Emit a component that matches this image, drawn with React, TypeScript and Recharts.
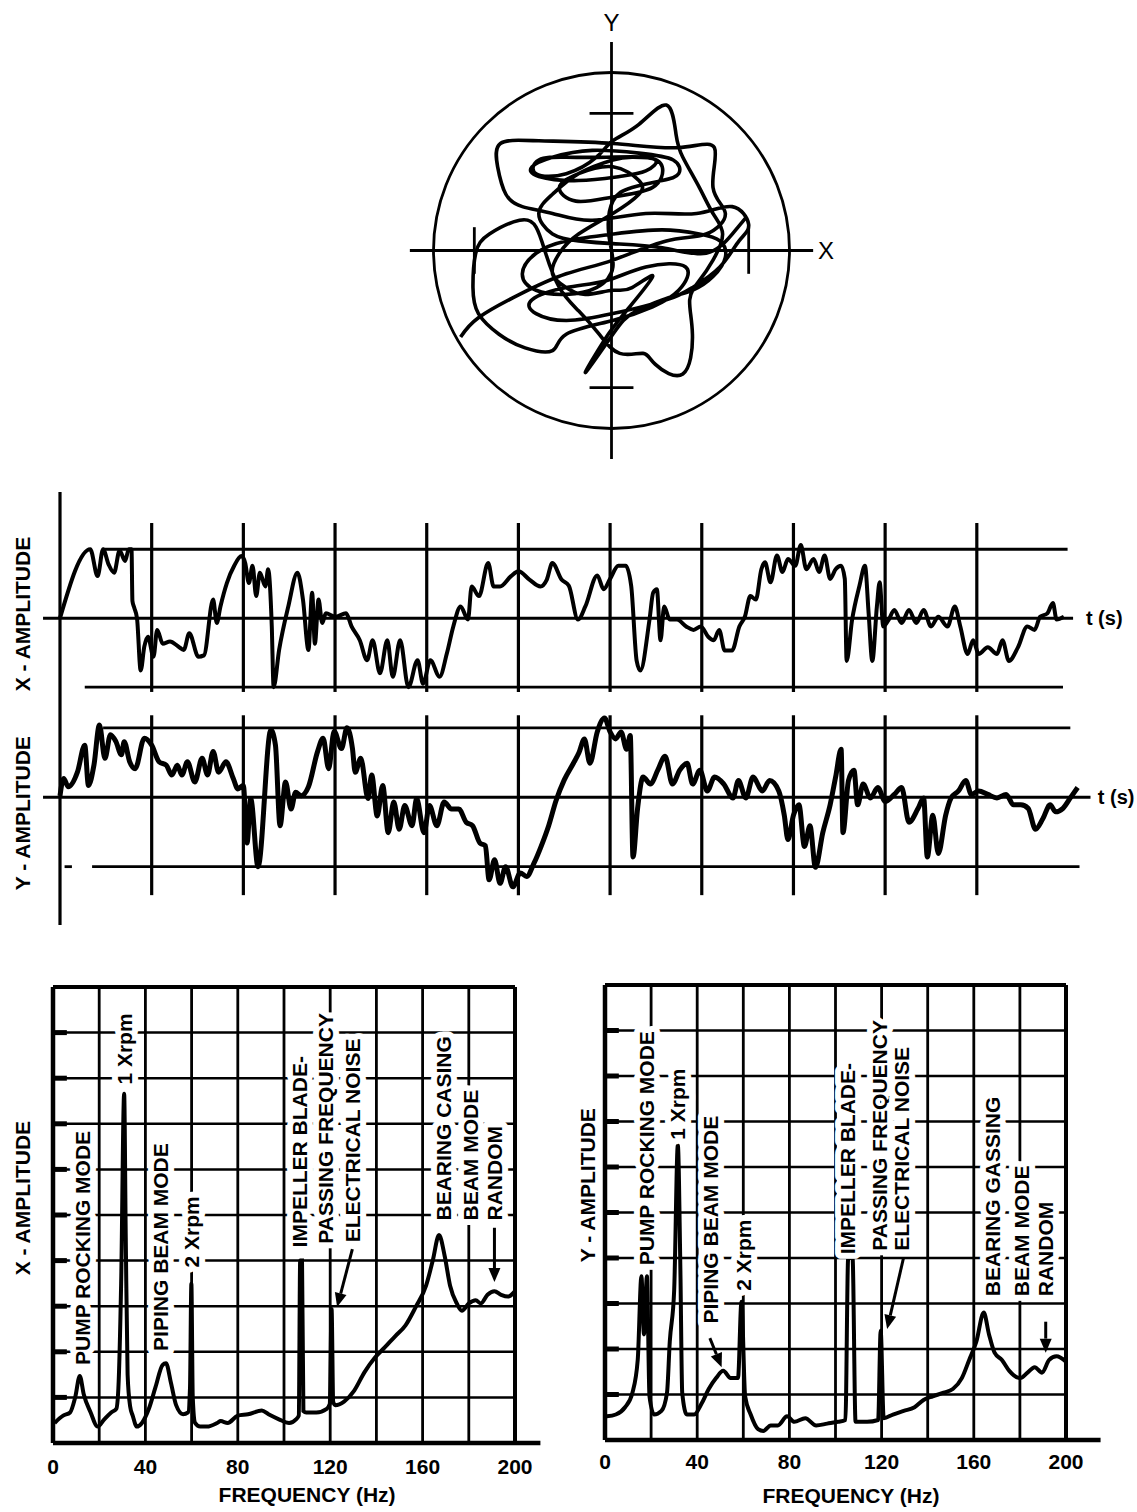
import React from 'react';
import { LineChart, Line, XAxis, YAxis, ReferenceLine, ReferenceDot } from 'recharts';

const FONT = '"Liberation Sans", Arial, Helvetica, sans-serif';
const INK = '#000';

// orbit, in tick units (x, y)
const orbitPath: [number, number][] = [
  [-1.1, -0.63], [-0.97, -0.49], [-0.67, -0.32], [-0.33, -0.17], [0.01, -0.07], [0.4, 0.07], [0.69, 0.12],
  [0.83, 0.27], [0.74, 0.46], [0.75, 0.75], [0.49, 0.75], [0.01, 0.78], [-0.53, 0.8], [-0.81, 0.78],
  [-0.83, 0.61], [-0.77, 0.41], [-0.65, 0.32], [-0.43, 0.27], [-0.14, 0.22], [0.25, 0.27], [0.62, 0.27],
  [0.88, 0.32], [1.0, 0.19], [0.93, 0.07], [0.79, -0.12], [0.59, -0.27], [0.4, -0.36], [0.01, -0.46],
  [-0.33, -0.51], [-0.55, -0.46], [-0.58, -0.36], [-0.33, -0.27], [-0.04, -0.22], [0.25, -0.12], [0.54, -0.12],
  [0.49, -0.29], [0.3, -0.41], [0.01, -0.51], [-0.33, -0.61], [-0.43, -0.73], [-0.63, -0.71], [-0.82, -0.61],
  [-0.97, -0.46], [-1.01, -0.27], [-0.99, -0.02], [-0.89, 0.12], [-0.67, 0.22], [-0.55, 0.17], [-0.48, -0.02],
  [-0.38, -0.27], [-0.24, -0.44], [-0.09, -0.61], [0.06, -0.75], [0.23, -0.75], [0.32, -0.83], [0.52, -0.9],
  [0.59, -0.61], [0.57, -0.36], [0.64, -0.22], [0.74, -0.07], [0.81, 0.12], [0.74, 0.27], [0.64, 0.46],
  [0.52, 0.68], [0.47, 0.85], [0.4, 1.06], [0.2, 0.92], [0.01, 0.8], [-0.11, 0.68], [-0.33, 0.56],
  [-0.55, 0.56], [-0.53, 0.66], [-0.33, 0.68], [-0.04, 0.68], [0.25, 0.68], [0.37, 0.61], [0.3, 0.46],
  [0.01, 0.39], [-0.26, 0.36], [-0.38, 0.46], [-0.24, 0.56], [0.01, 0.61], [0.2, 0.51], [0.2, 0.41],
  [0.01, 0.27], [-0.24, 0.12], [-0.38, -0.02], [-0.43, -0.17], [-0.33, -0.27], [-0.19, -0.32], [0.01, -0.29],
  [0.15, -0.27], [0.3, -0.19], [0.1, -0.45], [-0.05, -0.65], [-0.19, -0.89], [0.01, -0.61], [0.15, -0.46],
  [0.37, -0.36], [0.59, -0.29], [0.74, -0.19], [0.83, -0.05], [0.79, 0.07], [0.64, 0.12], [0.37, 0.15],
  [0.01, 0.12], [-0.33, 0.07], [-0.55, -0.02], [-0.65, -0.17], [-0.55, -0.29], [-0.33, -0.32], [-0.11, -0.27],
  [0.01, -0.12], [-0.02, 0.12], [0.01, 0.36], [0.15, 0.46], [0.37, 0.51], [0.49, 0.56], [0.45, 0.66],
  [0.2, 0.71], [-0.14, 0.73], [-0.43, 0.68], [-0.58, 0.61], [-0.53, 0.54], [-0.24, 0.51], [0.06, 0.54],
  [0.25, 0.58], [0.32, 0.66], [0.15, 0.68], [0.01, 0.66], [-0.24, 0.56], [-0.43, 0.41], [-0.53, 0.27],
  [-0.43, 0.12], [-0.24, 0.07], [0.01, 0.05], [0.37, 0.02], [0.69, -0.02], [0.88, 0.12], [0.98, 0.24],
];

// time traces (t, amplitude)
const xTrace: [number, number][] = [
  [0, 0], [0.33, 1.0], [0.41, 0.61], [0.47, 1.0], [0.53, 0.78], [0.59, 0.66], [0.65, 0.98], [0.71, 0.83],
  [0.75, 1.0], [0.78, 1.0], [0.79, 0.25], [0.81, 0.15], [0.84, 0], [0.88, -0.76], [0.92, -0.41], [0.96, -0.27],
  [1.02, -0.56], [1.06, -0.17], [1.12, -0.37], [1.2, -0.34], [1.29, -0.41], [1.35, -0.46], [1.41, -0.22],
  [1.51, -0.56], [1.57, -0.54], [1.67, 0.27], [1.71, -0.07], [1.75, 0.17], [1.82, 0.51], [1.9, 0.76],
  [1.98, 0.9], [2.02, 0.8], [2.06, 0.51], [2.1, 0.76], [2.14, 0.32], [2.18, 0.66], [2.24, 0.46], [2.27, 0.71],
  [2.31, -0.12], [2.33, -1.0], [2.39, -0.46], [2.49, 0.17], [2.59, 0.66], [2.65, 0.27], [2.71, -0.46],
  [2.75, 0.37], [2.78, -0.37], [2.82, 0.27], [2.86, -0.07], [2.9, 0.07], [3.0, 0.02], [3.12, 0.07],
  [3.18, -0.12], [3.27, -0.32], [3.35, -0.61], [3.41, -0.32], [3.49, -0.8], [3.57, -0.32], [3.63, -0.85],
  [3.71, -0.32], [3.8, -1.0], [3.9, -0.61], [3.96, -0.95], [4.04, -0.61], [4.14, -0.85], [4.22, -0.51],
  [4.29, -0.12], [4.37, 0.17], [4.45, -0.02], [4.49, 0.46], [4.57, 0.32], [4.67, 0.8], [4.73, 0.46],
  [4.8, 0.46], [4.92, 0.61], [5.0, 0.68], [5.12, 0.56], [5.24, 0.46], [5.31, 0.56], [5.37, 0.8], [5.47, 0.56],
  [5.55, 0.47], [5.65, -0.02], [5.73, 0.17], [5.86, 0.62], [5.93, 0.42], [6.0, 0.57], [6.09, 0.76],
  [6.17, 0.76], [6.23, 0.47], [6.29, -0.62], [6.33, -0.76], [6.43, -0.02], [6.47, 0.37], [6.51, 0.42],
  [6.55, -0.32], [6.59, 0.17], [6.65, -0.02], [6.73, -0.02], [6.83, -0.12], [6.91, -0.17], [6.99, -0.12],
  [7.07, -0.27], [7.13, -0.32], [7.19, -0.17], [7.25, -0.47], [7.33, -0.47], [7.41, -0.12], [7.47, 0.02],
  [7.53, 0.32], [7.59, 0.27], [7.65, 0.71], [7.69, 0.81], [7.75, 0.52], [7.82, 0.91], [7.88, 0.67],
  [7.94, 0.86], [8.02, 0.76], [8.08, 1.06], [8.14, 0.71], [8.22, 0.86], [8.28, 0.67], [8.34, 0.91],
  [8.4, 0.57], [8.46, 0.71], [8.52, 0.76], [8.56, 0.57], [8.58, -0.62], [8.64, -0.02], [8.72, 0.47],
  [8.78, 0.76], [8.82, 0.07], [8.86, -0.62], [8.91, 0.17], [8.94, 0.52], [8.98, -0.12], [9.04, -0.02],
  [9.1, 0.12], [9.18, -0.07], [9.26, 0.12], [9.34, -0.07], [9.42, 0.12], [9.5, -0.12], [9.58, 0.02],
  [9.68, -0.12], [9.76, 0.17], [9.82, -0.12], [9.9, -0.52], [9.96, -0.32], [10.02, -0.52], [10.12, -0.42],
  [10.22, -0.52], [10.28, -0.32], [10.35, -0.62], [10.45, -0.42], [10.55, -0.12], [10.63, -0.17],
  [10.69, 0.02], [10.77, 0.07], [10.83, 0.22], [10.87, -0.02], [10.95, 0.02],
];

const yTrace: [number, number][] = [
  [0, 0.02], [0.04, 0.27], [0.09, 0.15], [0.19, 0.36], [0.27, 0.75], [0.31, 0.17], [0.37, 0.46], [0.43, 1.04],
  [0.49, 0.56], [0.55, 0.9], [0.61, 0.8], [0.67, 0.61], [0.7, 0.8], [0.76, 0.51], [0.82, 0.41], [0.92, 0.85],
  [1.0, 0.75], [1.08, 0.51], [1.16, 0.46], [1.22, 0.32], [1.28, 0.46], [1.33, 0.32], [1.39, 0.51], [1.47, 0.22],
  [1.55, 0.56], [1.61, 0.32], [1.67, 0.66], [1.73, 0.36], [1.81, 0.51], [1.89, 0.27], [1.94, 0.12], [2.0, 0.17],
  [2.04, -0.66], [2.08, -0.02], [2.16, -1.0], [2.3, 0.97], [2.35, 0.75], [2.4, -0.41], [2.46, 0.22],
  [2.52, -0.17], [2.57, 0.07], [2.63, 0.02], [2.71, 0.15], [2.81, 0.66], [2.87, 0.85], [2.93, 0.41],
  [2.99, 0.95], [3.07, 0.7], [3.13, 1.0], [3.19, 0.7], [3.22, 0.36], [3.28, 0.56], [3.36, -0.02], [3.4, 0.32],
  [3.46, -0.27], [3.52, 0.17], [3.58, -0.51], [3.64, -0.07], [3.7, -0.46], [3.76, -0.12], [3.84, -0.41],
  [3.89, -0.02], [3.97, -0.51], [4.03, -0.12], [4.11, -0.41], [4.19, -0.07], [4.27, -0.17], [4.35, -0.17],
  [4.43, -0.36], [4.5, -0.41], [4.58, -0.66], [4.64, -0.7], [4.68, -1.19], [4.74, -0.9], [4.8, -1.24],
  [4.86, -1.0], [4.94, -1.29], [5.02, -1.09], [5.09, -1.14], [5.17, -0.95], [5.25, -0.7], [5.33, -0.41],
  [5.41, -0.05], [5.5, 0.25], [5.6, 0.49], [5.66, 0.64], [5.72, 0.84], [5.78, 0.49], [5.86, 0.94],
  [5.94, 1.14], [6.0, 0.94], [6.06, 0.84], [6.12, 0.94], [6.18, 0.69], [6.22, 0.89], [6.25, -0.86],
  [6.3, -0.16], [6.36, 0.29], [6.44, 0.19], [6.52, 0.39], [6.6, 0.59], [6.68, 0.19], [6.76, 0.39],
  [6.84, 0.49], [6.9, 0.19], [6.98, 0.39], [7.06, 0.09], [7.14, 0.29], [7.24, 0.19], [7.34, -0.01],
  [7.4, 0.24], [7.48, -0.01], [7.56, 0.29], [7.66, 0.09], [7.74, 0.24], [7.84, 0.09], [7.9, -0.26],
  [7.94, -0.61], [8.0, -0.26], [8.06, -0.11], [8.12, -0.71], [8.18, -0.41], [8.24, -1.01], [8.32, -0.51],
  [8.4, -0.11], [8.46, 0.29], [8.52, 0.69], [8.54, -0.51], [8.6, 0.24], [8.66, 0.39], [8.7, -0.11],
  [8.76, 0.19], [8.84, -0.01], [8.92, 0.14], [9.0, -0.06], [9.1, 0.04], [9.18, 0.14], [9.26, -0.36],
  [9.36, -0.16], [9.42, -0.01], [9.46, -0.86], [9.52, -0.26], [9.58, -0.81], [9.66, -0.26], [9.72, -0.01],
  [9.8, 0.09], [9.88, 0.24], [9.94, 0.04], [10.02, 0.09], [10.12, 0.04], [10.22, -0.01], [10.32, 0.04],
  [10.4, -0.11], [10.48, -0.11], [10.56, -0.16], [10.64, -0.46], [10.72, -0.31], [10.8, -0.11],
  [10.86, -0.21], [10.94, -0.16], [11.02, -0.01], [11.1, 0.14],
];

const timeGrid = [1, 2, 3, 4, 5, 6, 7, 8, 9, 10];

// spectra (Hz, amplitude in grid divisions)
const freqTicks = [0, 40, 80, 120, 160, 200];
const freqGrid = [20, 40, 60, 80, 100, 120, 140, 160, 180];
const ampGrid = [1, 2, 3, 4, 5, 6, 7, 8, 9];

const xSpectrum: [number, number][] = [
  [0.7, 0.44], [4.4, 0.6], [7.4, 0.67], [9.6, 1.0], [11.6, 1.47], [13.3, 1.07], [16.3, 0.67], [19.3, 0.36],
  [22.2, 0.52], [25.2, 0.67], [27.4, 0.75], [28.3, 1.2], [29.5, 3.5], [30.8, 7.66], [31.5, 4.5], [32.3, 1.5],
  [33.4, 0.8], [34.5, 0.6], [36.3, 0.36], [38.5, 0.44], [41.5, 0.75], [44.4, 1.23], [47.4, 1.71], [48.9, 1.75],
  [51.1, 1.31], [53.3, 0.83], [56.3, 0.63], [58.5, 0.67], [59.3, 1.2], [59.9, 3.49], [60.5, 1.0], [61.5, 0.44],
  [63.7, 0.36], [66.7, 0.36], [71.1, 0.44], [72.6, 0.48], [75.6, 0.44], [80, 0.6], [84.4, 0.63], [90.4, 0.71],
  [93.3, 0.63], [97.8, 0.52], [102.2, 0.44], [105.2, 0.52], [106.4, 0.6], [107.0, 4.0], [107.8, 4.0],
  [108.4, 0.7], [109.6, 0.67], [114, 0.67], [118.5, 0.75], [119.8, 0.85], [120.6, 2.94], [121.3, 0.9],
  [122.2, 0.83], [126, 0.91], [130.4, 1.15], [134.8, 1.55], [139.3, 1.87], [143.7, 2.1], [148.1, 2.34],
  [152.6, 2.58], [157, 2.98], [161.5, 3.45], [164.4, 4.0], [167.1, 4.56], [169.6, 4.09], [171.9, 3.45],
  [174.8, 3.06], [177, 2.9], [180, 3.06], [183, 3.13], [185.2, 3.06], [188.1, 3.25], [191.1, 3.33],
  [194, 3.25], [197, 3.21], [200, 3.33],
];

const ySpectrum: [number, number][] = [
  [0.8, 0.52], [4.7, 0.56], [8.7, 0.72], [11.9, 1.04], [14.2, 1.76], [15.8, 3.6], [16.9, 2.32], [18.2, 3.6],
  [19.3, 0.96], [21.3, 0.56], [24.5, 0.64], [26.9, 1.04], [28.1, 2.16], [30.0, 3.28], [31.6, 6.48], [32.7, 3.76],
  [33.5, 1.04], [35.5, 0.56], [38.7, 0.56], [41.9, 0.8], [45.0, 1.12], [48.2, 1.36], [51.3, 1.52], [54.5, 1.36],
  [57.7, 1.36], [59.2, 3.04], [60.8, 0.96], [63.2, 0.56], [66.4, 0.24], [68.7, 0.2], [71.9, 0.32], [75.0, 0.32],
  [79.0, 0.52], [82.1, 0.4], [86.9, 0.48], [91.6, 0.32], [96.4, 0.36], [101.1, 0.4], [104.3, 0.44],
  [105.5, 4.0], [107.4, 4.0], [108.7, 0.4], [113.7, 0.4], [118.5, 0.44], [119.6, 2.4], [120.9, 0.48],
  [124.9, 0.56], [129.6, 0.64], [134.3, 0.72], [138.2, 0.88], [142.2, 0.96], [146.9, 1.04], [150.9, 1.12],
  [154.8, 1.36], [158.0, 1.76], [161.1, 2.16], [164.3, 2.8], [166.6, 2.32], [169.0, 1.92], [172.2, 1.76],
  [175.4, 1.52], [180.1, 1.36], [183.3, 1.48], [186.4, 1.6], [189.6, 1.48], [192.7, 1.76], [195.9, 1.84],
  [200, 1.72],
];

type Note = { f: number; v: number; text: string };
type Arrow = { from: [number, number]; to: [number, number] };

const xNotes: Note[] = [
  { f: 12.6, v: 1.71, text: 'PUMP ROCKING MODE' },
  { f: 31.1, v: 7.86, text: '1 Xrpm' },
  { f: 46.7, v: 2.02, text: 'PIPING BEAM  MODE' },
  { f: 60, v: 3.85, text: '2 Xrpm' },
  { f: 106.7, v: 4.29, text: 'IMPELLER BLADE-' },
  { f: 117.8, v: 4.37, text: 'PASSING FREQUENCY' },
  { f: 129.6, v: 4.4, text: 'ELECTRICAL NOISE' },
  { f: 168.9, v: 4.88, text: 'BEARING CASING' },
  { f: 180.7, v: 4.88, text: 'BEAM MODE' },
  { f: 191.1, v: 4.88, text: 'RANDOM' },
];
const xArrows: Arrow[] = [
  { from: [129.6, 4.25], to: [123, 2.98] },
  { from: [191.1, 4.72], to: [191.1, 3.53] },
];

const yNotes: Note[] = [
  { f: 18.2, v: 3.84, text: 'PUMP ROCKING MODE' },
  { f: 31.6, v: 6.6, text: '1 Xrpm' },
  { f: 45.8, v: 2.56, text: 'PIPING BEAM MODE' },
  { f: 60, v: 3.28, text: '2 Xrpm' },
  { f: 105, v: 4.08, text: 'IMPELLER BLADE-' },
  { f: 119.3, v: 4.16, text: 'PASSING FREQUENCY' },
  { f: 128.8, v: 4.16, text: 'ELECTRICAL NOISE' },
  { f: 168.2, v: 3.16, text: 'BEARING GASSING' },
  { f: 180.9, v: 3.16, text: 'BEAM MODE' },
  { f: 191.2, v: 3.16, text: 'RANDOM' },
];
const yArrows: Arrow[] = [
  { from: [45.5, 2.24], to: [50.6, 1.6] },
  { from: [129.5, 4.0], to: [122.4, 2.44] },
  { from: [191.2, 2.6], to: [191.2, 1.92] },
];

const pairs = (rows: [number, number][], a: string, b: string) => rows.map(([p, q]) => ({ [a]: p, [b]: q }));

const hText = (text: string, anchor: string, size: number, weight: number) => (p: any) => (
  <text x={p.cx} y={p.cy} textAnchor={anchor} dominantBaseline="central" fontSize={size}
    fontWeight={weight} fontFamily={FONT} fill={INK}>{text}</text>
);

// rotated label; the white halo knocks the grid out behind the lettering
const vText = (text: string, anchor: string, halo = true) => (p: any) => (
  <text x={p.cx} y={p.cy} transform={`rotate(-90 ${p.cx} ${p.cy})`} textAnchor={anchor}
    dominantBaseline="central" fontSize={21} fontWeight={700} fontFamily={FONT} fill={INK}
    stroke={halo ? '#fff' : 'none'} strokeWidth={12} strokeLinejoin="round" paintOrder="stroke">{text}</text>
);

const arrowShape = (p: any) => {
  const { x1, y1, x2, y2 } = p;
  if (x1 == null) return null;
  const a = Math.atan2(y2 - y1, x2 - x1);
  const L = 14, W = 6;
  const bx = x2 - L * Math.cos(a), by = y2 - L * Math.sin(a);
  const pts = `${x2},${y2} ${bx + W * Math.sin(a)},${by - W * Math.cos(a)} ${bx - W * Math.sin(a)},${by + W * Math.cos(a)}`;
  return (
    <g>
      <line x1={x1} y1={y1} x2={bx} y2={by} stroke={INK} strokeWidth={3} />
      <polygon points={pts} fill={INK} />
    </g>
  );
};

const seg = (x1: number, y1: number, x2: number, y2: number, w: number, key: string) => (
  <ReferenceLine key={key} segment={[{ x: x1, y: y1 }, { x: x2, y: y2 }]} stroke={INK} strokeWidth={w} ifOverflow="visible" />
);

function Spectrum({ data, notes, arrows, left, margin, tickMargin, axisEnd, title, titleAt, freqAt }: any) {
  return (
    <div style={{ position: 'absolute', left, top: 960 }}>
      <LineChart width={left === 0 ? 560 : 577} height={552} data={pairs(data, 'f', 'v')} margin={margin}>
        <XAxis type="number" dataKey="f" domain={[0, 200]} ticks={freqTicks} interval={0} tickLine={false}
          axisLine={false} height={40} tickMargin={tickMargin}
          tick={{ fill: INK, fontSize: 21, fontWeight: 700, fontFamily: FONT }} />
        <YAxis type="number" domain={[0, 10]} hide />
        {freqGrid.map((f) => (
          <ReferenceLine key={`gx${f}`} x={f} stroke={INK} strokeWidth={2.8} ifOverflow="visible" />
        ))}
        {ampGrid.map((a) => (
          <ReferenceLine key={`gy${a}`} y={a} stroke={INK} strokeWidth={2.5} ifOverflow="visible" />
        ))}
        {ampGrid.map((a) => seg(0, a, 6, a, 5, `tk${a}`))}
        <ReferenceLine x={0} stroke={INK} strokeWidth={4.5} ifOverflow="visible" />
        <ReferenceLine x={200} stroke={INK} strokeWidth={4} ifOverflow="visible" />
        <ReferenceLine y={10} stroke={INK} strokeWidth={4} ifOverflow="visible" />
        {seg(0, 0, axisEnd, 0, 4.5, 'base')}
        <Line dataKey="v" type="monotone" stroke={INK} strokeWidth={4} dot={false} isAnimationActive={false} />
        {notes.map((n: Note) => (
          <ReferenceDot key={n.text} x={n.f} y={n.v} r={1} shape={vText(n.text, 'start')} ifOverflow="visible" />
        ))}
        {arrows.map((a: Arrow, i: number) => (
          <ReferenceLine key={`ar${i}`} segment={[{ x: a.from[0], y: a.from[1] }, { x: a.to[0], y: a.to[1] }]}
            shape={arrowShape} ifOverflow="visible" />
        ))}
        <ReferenceDot x={titleAt[0]} y={titleAt[1]} r={1} shape={vText(title, 'middle', false)} ifOverflow="visible" />
        <ReferenceDot x={freqAt[0]} y={freqAt[1]} r={1} shape={hText('FREQUENCY (Hz)', 'middle', 21, 700)} ifOverflow="visible" />
      </LineChart>
    </div>
  );
}

export default function App() {
  return (
    <div style={{ position: 'absolute', left: 0, top: 0, width: 1137, height: 1512, background: '#fff', overflow: 'hidden' }}>
      {/* orbit */}
      <div style={{ position: 'absolute', left: 383, top: 0 }}>
        <LineChart width={477} height={469} data={pairs(orbitPath, 'x', 'y')} margin={{ top: 42, right: 40, bottom: 10, left: 20 }}>
          <XAxis type="number" dataKey="x" domain={[-1.52, 1.52]} hide />
          <YAxis type="number" domain={[-1.52, 1.52]} hide />
          <ReferenceLine x={0} stroke={INK} strokeWidth={2.8} ifOverflow="visible" />
          {seg(-1.47, 0, 1.47, 0, 2.8, 'hx')}
          {[-1, 1].map((v) => seg(-0.16, v, 0.16, v, 2.8, `ty${v}`))}
          {[-1, 1].map((v) => seg(v, -0.17, v, 0.17, 2.8, `tx${v}`))}
          <ReferenceDot x={0} y={0} r={178} fill="none" stroke={INK} strokeWidth={2.8} ifOverflow="visible" />
          <Line dataKey="y" type="natural" stroke={INK} strokeWidth={3.6} dot={false} isAnimationActive={false} />
          <ReferenceDot x={0} y={1.665} r={1} shape={hText('Y', 'middle', 24, 400)} ifOverflow="visible" />
          <ReferenceDot x={1.563} y={0} r={1} shape={hText('X', 'middle', 24, 400)} ifOverflow="visible" />
        </LineChart>
      </div>

      {/* X amplitude vs time */}
      <div style={{ position: 'absolute', left: 0, top: 487 }}>
        <LineChart width={1137} height={443} data={pairs(xTrace, 't', 'a')} margin={{ top: 5, right: 41, bottom: 5, left: 60 }}>
          <XAxis type="number" dataKey="t" domain={[0, 11.3]} hide />
          <YAxis type="number" domain={[-4.45, 1.83]} hide />
          <ReferenceLine x={0} stroke={INK} strokeWidth={3.2} ifOverflow="visible" />
          {seg(0.47, 1, 10.99, 1, 2.8, 'top')}
          {seg(-0.185, 0, 11.05, 0, 3, 'mid')}
          {seg(0.27, -1, 10.94, -1, 2.8, 'bot')}
          {timeGrid.map((t) => seg(t, 1.38, t, -1.07, 3.2, `v${t}`))}
          <Line dataKey="a" type="monotone" stroke={INK} strokeWidth={4} dot={false} isAnimationActive={false} />
          <ReferenceDot x={11.19} y={0} r={1} shape={hText('t (s)', 'start', 20, 700)} ifOverflow="visible" />
          <ReferenceDot x={-0.41} y={0.06} r={1} shape={vText('X - AMPLITUDE', 'middle', false)} ifOverflow="visible" />
        </LineChart>
      </div>

      {/* Y amplitude vs time */}
      <div style={{ position: 'absolute', left: 0, top: 695 }}>
        <LineChart width={1137} height={210} data={pairs(yTrace, 't', 'a')} margin={{ top: 5, right: 41, bottom: 5, left: 60 }}>
          <XAxis type="number" dataKey="t" domain={[0, 11.3]} hide />
          <YAxis type="number" domain={[-1.48, 1.4]} hide />
          {seg(0.47, 1, 11.02, 1, 2.8, 'top')}
          {seg(-0.185, 0, 11.24, 0, 3, 'mid')}
          {seg(0.35, -1, 11.12, -1, 2.8, 'bot')}
          {seg(0.05, -1, 0.13, -1, 2.8, 'dash')}
          {timeGrid.map((t) => seg(t, 1.18, t, -1.41, 3.2, `v${t}`))}
          <Line dataKey="a" type="monotone" stroke={INK} strokeWidth={5} dot={false} isAnimationActive={false} />
          <ReferenceDot x={11.32} y={0} r={1} shape={hText('t (s)', 'start', 20, 700)} ifOverflow="visible" />
          <ReferenceDot x={-0.41} y={-0.23} r={1} shape={vText('Y - AMPLITUDE', 'middle', false)} ifOverflow="visible" />
        </LineChart>
      </div>

      <Spectrum data={xSpectrum} notes={xNotes} arrows={xArrows} left={0}
        margin={{ top: 27, right: 45, bottom: 29, left: 53 }} tickMargin={10} axisEnd={211}
        title="X - AMPLITUDE" titleAt={[-13.4, 5.37]} freqAt={[110, -1.12]} />
      <Spectrum data={ySpectrum} notes={yNotes} arrows={yArrows} left={560}
        margin={{ top: 25, right: 71, bottom: 32, left: 45 }} tickMargin={8} axisEnd={215}
        title="Y - AMPLITUDE" titleAt={[-7.4, 5.6]} freqAt={[106.7, -1.21]} />
    </div>
  );
}
